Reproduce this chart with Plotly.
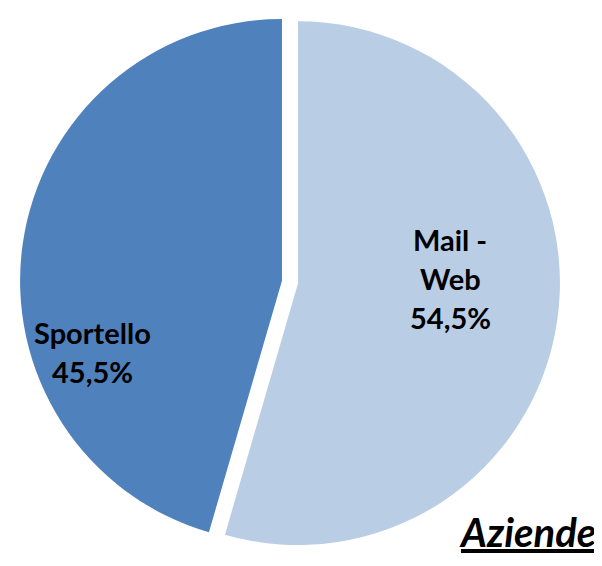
import plotly.graph_objects as go

categorie = ["Mail - Web", "Sportello"]
percentuali = [54.5, 45.5]
colori = ["#B9CDE5", "#4F81BD"]
righe_etichette = [["Mail -", "Web"], ["Sportello"]]

# posizione (paper) delle etichette dentro le fette, come nel grafico Excel
pos_etichette = [(0.797, 0.578), (0.135, 0.407)]
interlinea = 39

fig = go.Figure(data=go.Pie(
    labels=categorie,
    values=percentuali,
    textinfo="none",
    sort=False,
    direction="clockwise",
    rotation=0,
    pull=[0.031, 0.031],
    marker=dict(colors=colori, line=dict(width=0)),
    hoverinfo="label+percent",
    showlegend=False,
))

for righe, v, (px, py) in zip(righe_etichette, percentuali, pos_etichette):
    righe = righe + [("%.1f" % v).replace(".", ",") + "%"]
    for i, r in enumerate(righe):
        fig.add_annotation(
            text="<b>" + r + "</b>",
            x=px, y=py, xref="paper", yref="paper",
            xanchor="center", yanchor="middle",
            yshift=-interlinea * i,
            showarrow=False,
            font=dict(family="Lato", size=29, color="black"),
        )

fig.add_annotation(
    text="<b><i><u>Aziende</u></i></b>",
    x=1, y=0, xref="paper", yref="paper",
    xanchor="right", yanchor="bottom",
    showarrow=False,
    font=dict(family="Lato", size=40, color="black"),
    xshift=38, yshift=-6,
)

fig.update_layout(
    width=602, height=566,
    margin=dict(l=12, r=50, t=4, b=22),
    paper_bgcolor="white",
    plot_bgcolor="white",
)

fig.write_html("out.html")
